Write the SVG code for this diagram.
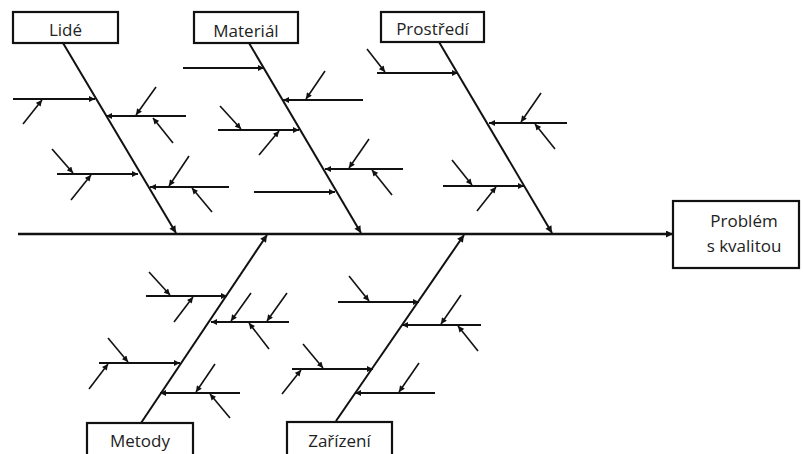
<svg xmlns="http://www.w3.org/2000/svg" width="803" height="454" viewBox="0 0 803 454">
<defs>
<marker id="ah" viewBox="0 0 10 10" refX="10" refY="5" markerWidth="9" markerHeight="7" markerUnits="userSpaceOnUse" orient="auto">
<path d="M0,0 L10,5 L0,10 Z" fill="#111"/>
</marker>
<marker id="ahs" viewBox="0 0 10 10" refX="10" refY="5" markerWidth="7" markerHeight="6" markerUnits="userSpaceOnUse" orient="auto">
<path d="M0,0 L10,5 L0,10 Z" fill="#111"/>
</marker>
</defs>
<style>
.box{fill:#fff;stroke:#111;stroke-width:2.2}
.lbl{font-family:"Open Sans","Liberation Sans",sans-serif;font-size:17px;fill:#222;text-anchor:middle}
.spine{stroke:#111;stroke-width:2.6;fill:none}
.bone{stroke:#111;stroke-width:2;fill:none}
.sub{stroke:#111;stroke-width:1.8;fill:none}
.tw{stroke:#111;stroke-width:1.6;fill:none}
</style>
<rect width="803" height="454" fill="#fff"/>

<g id="connectors">
<line class="spine" x1="18" y1="234" x2="673" y2="234" marker-end="url(#ah)"/>
<!-- main bones -->
<line class="bone" x1="63" y1="43" x2="176" y2="233" marker-end="url(#ah)"/>
<line class="bone" x1="249" y1="43" x2="361" y2="233" marker-end="url(#ah)"/>
<line class="bone" x1="439" y1="42" x2="552" y2="233" marker-end="url(#ah)"/>
<line class="bone" x1="141" y1="423" x2="267" y2="235" marker-end="url(#ah)"/>
<line class="bone" x1="336" y1="421" x2="464" y2="235" marker-end="url(#ah)"/>

<!-- Lidé sub-branches -->
<line class="sub" x1="13" y1="99" x2="95" y2="99" marker-end="url(#ahs)"/>
<line class="tw" x1="23" y1="124" x2="42" y2="100" marker-end="url(#ahs)"/>
<line class="sub" x1="186" y1="116" x2="106" y2="116" marker-end="url(#ahs)"/>
<line class="tw" x1="156" y1="87" x2="136" y2="115" marker-end="url(#ahs)"/>
<line class="tw" x1="173" y1="143" x2="153" y2="118" marker-end="url(#ahs)"/>
<line class="sub" x1="57" y1="174" x2="138" y2="174" marker-end="url(#ahs)"/>
<line class="tw" x1="52" y1="149" x2="73" y2="173" marker-end="url(#ahs)"/>
<line class="tw" x1="71" y1="200" x2="91" y2="175" marker-end="url(#ahs)"/>
<line class="sub" x1="229" y1="187" x2="150" y2="187" marker-end="url(#ahs)"/>
<line class="tw" x1="189" y1="156" x2="169" y2="186" marker-end="url(#ahs)"/>
<line class="tw" x1="212" y1="212" x2="192" y2="188" marker-end="url(#ahs)"/>

<!-- Materiál sub-branches -->
<line class="sub" x1="183" y1="68" x2="264" y2="68" marker-end="url(#ahs)"/>
<line class="sub" x1="363" y1="100" x2="283" y2="100" marker-end="url(#ahs)"/>
<line class="tw" x1="325" y1="71" x2="306" y2="99" marker-end="url(#ahs)"/>
<line class="sub" x1="218" y1="130" x2="299" y2="130" marker-end="url(#ahs)"/>
<line class="tw" x1="220" y1="106" x2="241" y2="129" marker-end="url(#ahs)"/>
<line class="tw" x1="259" y1="155" x2="279" y2="131" marker-end="url(#ahs)"/>
<line class="sub" x1="403" y1="169" x2="325" y2="169" marker-end="url(#ahs)"/>
<line class="tw" x1="369" y1="139" x2="349" y2="168" marker-end="url(#ahs)"/>
<line class="tw" x1="392" y1="195" x2="372" y2="170" marker-end="url(#ahs)"/>
<line class="sub" x1="254" y1="192" x2="335" y2="192" marker-end="url(#ahs)"/>

<!-- Prostředí sub-branches -->
<line class="sub" x1="377" y1="73" x2="458" y2="73" marker-end="url(#ahs)"/>
<line class="tw" x1="367" y1="49" x2="385" y2="72" marker-end="url(#ahs)"/>
<line class="sub" x1="567" y1="123" x2="489" y2="123" marker-end="url(#ahs)"/>
<line class="tw" x1="541" y1="93" x2="521" y2="122" marker-end="url(#ahs)"/>
<line class="tw" x1="555" y1="149" x2="535" y2="124" marker-end="url(#ahs)"/>
<line class="sub" x1="443" y1="186" x2="524" y2="186" marker-end="url(#ahs)"/>
<line class="tw" x1="452" y1="160" x2="472" y2="185" marker-end="url(#ahs)"/>
<line class="tw" x1="477" y1="211" x2="496" y2="187" marker-end="url(#ahs)"/>

<!-- Metody sub-branches -->
<line class="sub" x1="146" y1="296" x2="227" y2="296" marker-end="url(#ahs)"/>
<line class="tw" x1="149" y1="272" x2="170" y2="295" marker-end="url(#ahs)"/>
<line class="tw" x1="174" y1="322" x2="193" y2="297" marker-end="url(#ahs)"/>
<line class="sub" x1="289" y1="322" x2="211" y2="322" marker-end="url(#ahs)"/>
<line class="tw" x1="251" y1="293" x2="231" y2="321" marker-end="url(#ahs)"/>
<line class="tw" x1="287" y1="293" x2="267" y2="321" marker-end="url(#ahs)"/>
<line class="tw" x1="269" y1="349" x2="249" y2="323" marker-end="url(#ahs)"/>
<line class="sub" x1="99" y1="363" x2="180" y2="363" marker-end="url(#ahs)"/>
<line class="tw" x1="108" y1="338" x2="128" y2="362" marker-end="url(#ahs)"/>
<line class="tw" x1="89" y1="389" x2="108" y2="364" marker-end="url(#ahs)"/>
<line class="sub" x1="240" y1="393" x2="160" y2="393" marker-end="url(#ahs)"/>
<line class="tw" x1="215" y1="364" x2="196" y2="392" marker-end="url(#ahs)"/>
<line class="tw" x1="230" y1="418" x2="210" y2="394" marker-end="url(#ahs)"/>

<!-- Zařízení sub-branches -->
<line class="sub" x1="338" y1="302" x2="419" y2="302" marker-end="url(#ahs)"/>
<line class="tw" x1="349" y1="276" x2="369" y2="301" marker-end="url(#ahs)"/>
<line class="sub" x1="481" y1="325" x2="402" y2="325" marker-end="url(#ahs)"/>
<line class="tw" x1="461" y1="295" x2="441" y2="324" marker-end="url(#ahs)"/>
<line class="tw" x1="478" y1="351" x2="458" y2="326" marker-end="url(#ahs)"/>
<line class="sub" x1="292" y1="369" x2="373" y2="369" marker-end="url(#ahs)"/>
<line class="tw" x1="303" y1="344" x2="323" y2="368" marker-end="url(#ahs)"/>
<line class="tw" x1="282" y1="394" x2="301" y2="370" marker-end="url(#ahs)"/>
<line class="sub" x1="435" y1="393" x2="355" y2="393" marker-end="url(#ahs)"/>
<line class="tw" x1="419" y1="363" x2="399" y2="392" marker-end="url(#ahs)"/>
</g>

<g id="lide">
<rect class="box" x="13" y="12" width="105" height="31"/>
<text class="lbl" x="65.5" y="36">Lidé</text>
</g>
<g id="material">
<rect class="box" x="194" y="12" width="104" height="31"/>
<text class="lbl" x="246" y="37">Materiál</text>
</g>
<g id="prostredi">
<rect class="box" x="381" y="12" width="103" height="30"/>
<text class="lbl" x="432.5" y="35">Prostředí</text>
</g>
<g id="metody">
<rect class="box" x="87" y="423" width="106" height="40"/>
<text class="lbl" x="140" y="447">Metody</text>
</g>
<g id="zarizeni">
<rect class="box" x="287" y="422" width="105" height="41"/>
<text class="lbl" x="339.5" y="447">Zařízení</text>
</g>
<g id="problem">
<rect class="box" x="673" y="201" width="126" height="67"/>
<text class="lbl" x="744" y="227">Problém</text>
<text class="lbl" x="744" y="252">s kvalitou</text>
</g>
</svg>
